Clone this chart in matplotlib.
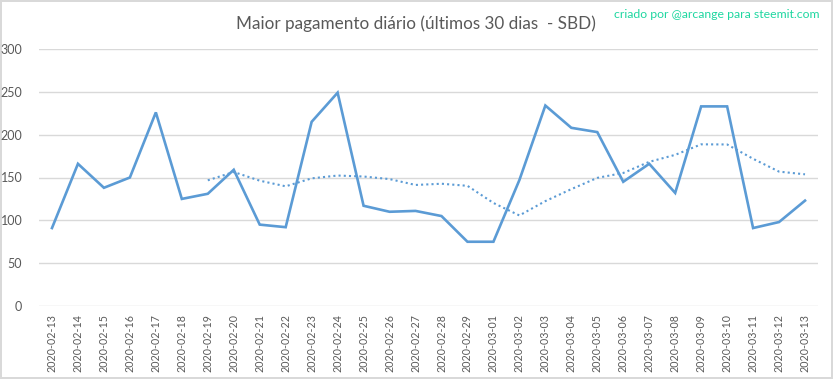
import matplotlib
matplotlib.use("Agg")
import matplotlib.pyplot as plt
import pandas as pd

dates = ["2020-02-13", "2020-02-14", "2020-02-15", "2020-02-16", "2020-02-17",
         "2020-02-18", "2020-02-19", "2020-02-20", "2020-02-21", "2020-02-22",
         "2020-02-23", "2020-02-24", "2020-02-25", "2020-02-26", "2020-02-27",
         "2020-02-28", "2020-02-29", "2020-03-01", "2020-03-02", "2020-03-03",
         "2020-03-04", "2020-03-05", "2020-03-06", "2020-03-07", "2020-03-08",
         "2020-03-09", "2020-03-10", "2020-03-11", "2020-03-12", "2020-03-13"]
values = [91, 166, 138, 150, 226, 125, 131, 159, 95, 92,
          215, 249, 117, 110, 111, 105, 75, 75, 147, 234,
          208, 203, 145, 166, 132, 233, 233, 91, 98, 123]
ma_period = 7
yticks = [0, 50, 100, 150, 200, 250, 300]

title = "Maior pagamento diário (últimos 30 dias  - SBD)"
credit = "criado por @arcange para steemit.com"

blue = "#5B9BD5"
grid = "#D9D9D9"
txt = "#595959"

plt.rcParams['font.family'] = ['Lato', 'DejaVu Sans']

fig = plt.figure(figsize=(8.33, 3.79), dpi=100)
fig.patch.set_facecolor("white")
fig.patch.set_edgecolor(grid)
fig.patch.set_linewidth(1.5)

ax = fig.add_axes([39/833, 1 - 306/379, 779/833, 257/379])
x = list(range(len(dates)))
ax.plot(x, values, color=blue, lw=1.9, solid_joinstyle='miter', zorder=3)
ma = pd.Series(values).rolling(ma_period).mean()
ax.plot(x, ma, color=blue, lw=1.5, linestyle=(0, (1, 1.5)), zorder=2)

ax.set_xlim(-0.5, len(dates) - 0.5)
ax.set_ylim(0, 300)
ax.set_yticks(yticks)
ax.set_yticklabels([str(t) for t in yticks], color=txt, fontsize=9)
ax.set_xticks(x)
ax.set_xticklabels(dates, rotation=90, color=txt, fontsize=7.7)
ax.tick_params(length=0, pad=6)
ax.tick_params(axis='y', pad=12)
for s in ax.spines.values():
    s.set_visible(False)
ax.grid(axis='y', color=grid, lw=1)
ax.set_axisbelow(True)

fig.text(416/833, 1 - 24/379, title, ha='center', va='center', fontsize=12.3,
         color=txt)
fig.text(819/833, 1 - 15/379, credit, ha='right', va='center', fontsize=8.8,
         color="#1ED7A0")

fig.savefig("out.png", dpi=100, facecolor=fig.get_facecolor(), edgecolor=fig.get_edgecolor())
